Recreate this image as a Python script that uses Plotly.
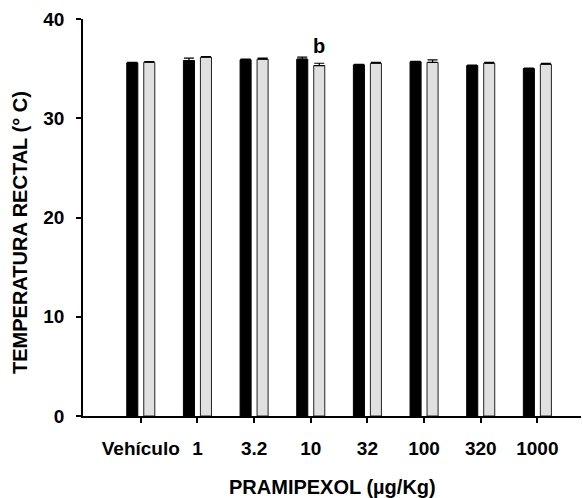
import plotly.graph_objects as go

categories = ["Vehículo", "1", "3.2", "10", "32", "100", "320", "1000"]
black_values = [35.58, 35.82, 35.89, 35.95, 35.38, 35.69, 35.31, 35.01]
black_err = [0.05, 0.23, 0.08, 0.2, 0.05, 0.05, 0.05, 0.05]
gray_values = [35.64, 36.15, 35.95, 35.31, 35.54, 35.62, 35.54, 35.44]
gray_err = [0.08, 0.05, 0.1, 0.23, 0.1, 0.27, 0.1, 0.1]
y_ticks = [0, 10, 20, 30, 40]
sig_label = "b"
sig_index = 3
sig_y = 37.3

font_family = "Liberation Sans, Arial, sans-serif"

fig = go.Figure()
fig.add_trace(go.Bar(
    x=categories, y=black_values,
    marker=dict(color="#000000", line=dict(color="#000000", width=1)),
    error_y=dict(type="data", array=black_err, arrayminus=[0]*len(black_err),
                 symmetric=False, color="#000000", thickness=1.2, width=5),
    showlegend=False,
))
fig.add_trace(go.Bar(
    x=categories, y=gray_values,
    marker=dict(color="#e0e0e0", line=dict(color="#222222", width=1)),
    error_y=dict(type="data", array=gray_err, arrayminus=[0]*len(gray_err),
                 symmetric=False, color="#000000", thickness=1.2, width=5),
    showlegend=False,
))

fig.update_layout(
    width=583, height=498,
    margin=dict(l=83, r=2, t=19, b=82),
    paper_bgcolor="white", plot_bgcolor="white",
    barmode="group", bargap=0.4, bargroupgap=0.35,
    font=dict(family=font_family, size=19, color="#000000"),
)
fig.update_xaxes(
    type="category", range=[-1.02, 7.77],
    tickmode="array", tickvals=categories,
    ticktext=["<b>%s</b>" % c for c in categories],
    showline=True, linecolor="#000000", linewidth=1.5,
    ticks="outside", ticklen=5, tickwidth=1.5, tickcolor="#000000",
    tickfont=dict(family=font_family, size=19, color="#000000"),
    ticklabelstandoff=9,
    showgrid=False, zeroline=False,
)
fig.update_yaxes(
    range=[0, 40], tickmode="array", tickvals=y_ticks,
    ticktext=["<b>%d</b>" % v for v in y_ticks],
    showline=True, linecolor="#000000", linewidth=1.5,
    ticks="outside", ticklen=5, tickwidth=1.5, tickcolor="#000000",
    tickfont=dict(family=font_family, size=19, color="#000000"),
    ticklabelstandoff=8,
    showgrid=False, zeroline=False,
)

fig.add_annotation(
    x=sig_index + 0.15, y=sig_y, xref="x", yref="y",
    text="<b>%s</b>" % sig_label, showarrow=False,
    font=dict(family=font_family, size=20, color="#000000"),
)
fig.add_annotation(
    x=0.5, y=-0.18, xref="paper", yref="paper",
    text="<b>PRAMIPEXOL (µg/Kg)</b>", showarrow=False,
    xanchor="center", yanchor="middle",
    font=dict(family=font_family, size=20, color="#000000"),
)
fig.add_annotation(
    x=-0.1265, y=0.461, xref="paper", yref="paper",
    text="<b>TEMPERATURA RECTAL (° C)</b>", showarrow=False, textangle=-90,
    xanchor="center", yanchor="middle",
    font=dict(family=font_family, size=20, color="#000000"),
)

fig.write_html("out.html")
